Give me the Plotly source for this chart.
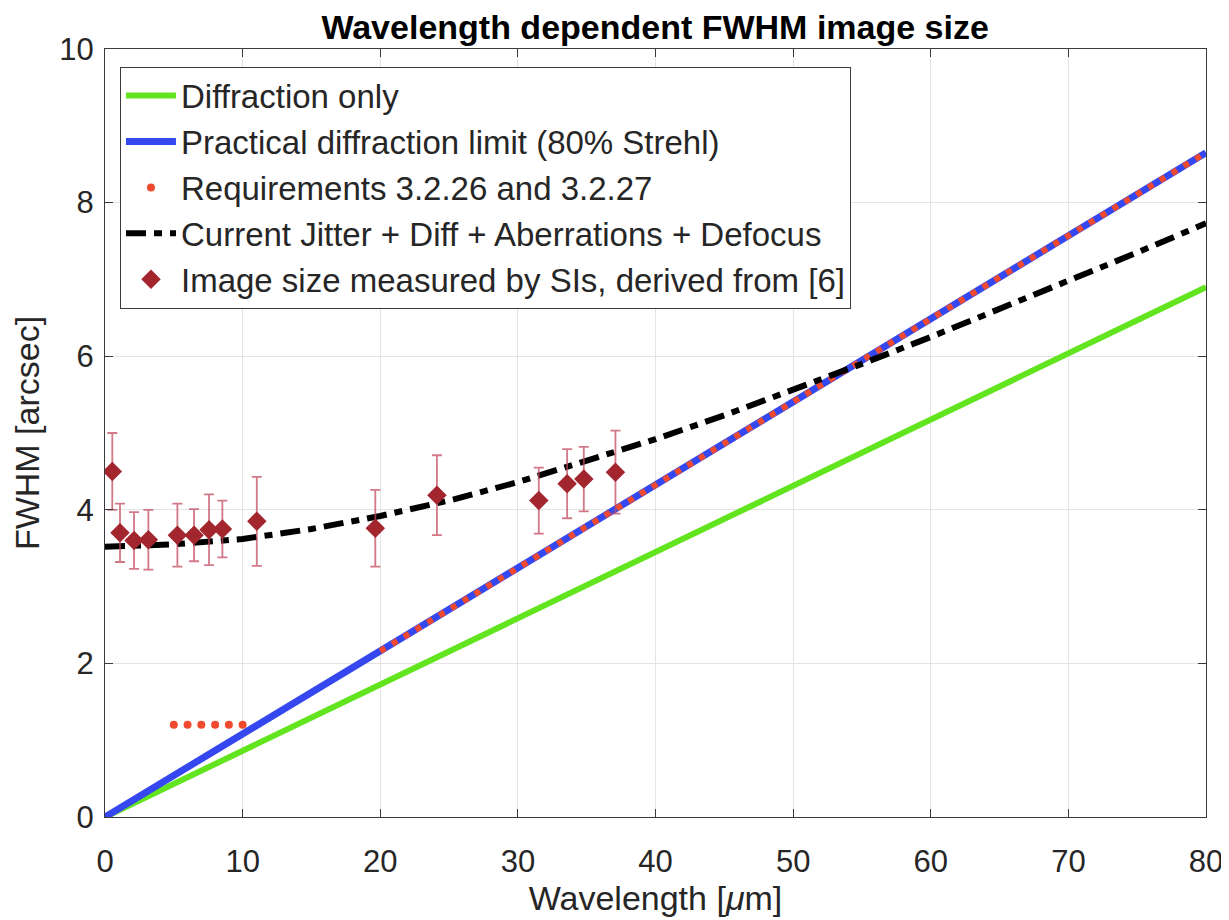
import plotly.graph_objects as go

# Straight-line models (endpoints)
diff_x = [0, 80]
diff_y = [0, 6.90]
prac_x = [0, 80]
prac_y = [0, 8.65]

# Requirements
req_diag_x = [20, 80]
req_diag_y = [2.16, 8.65]
req_pts_x = [5, 6, 7, 8, 9, 10]
req_pts_y = [1.2, 1.2, 1.2, 1.2, 1.2, 1.2]

# Current Jitter + Diff + Aberrations + Defocus
cur_x = [0, 5, 10, 15, 20, 25, 30, 35, 40, 45, 50, 55, 60, 65, 70, 75, 80]
cur_y = [3.52, 3.55, 3.62, 3.75, 3.92, 4.12, 4.36, 4.63, 4.92, 5.23, 5.56, 5.90, 6.25, 6.61, 6.97, 7.35, 7.73]

# Measured image sizes
meas_x = [0.53, 1.09, 2.11, 3.15, 5.26, 6.47, 7.56, 8.53, 11.03, 19.64, 24.12, 31.52, 33.58, 34.79, 37.09]
meas_y = [4.50, 3.70, 3.60, 3.61, 3.67, 3.67, 3.74, 3.75, 3.85, 3.76, 4.19, 4.12, 4.34, 4.40, 4.49]
meas_err = [0.50, 0.38, 0.37, 0.39, 0.41, 0.34, 0.46, 0.37, 0.58, 0.50, 0.52, 0.43, 0.45, 0.42, 0.54]

FONT = "Liberation Sans"
TXT = "#262626"

fig = go.Figure()
fig.add_trace(go.Scatter(x=diff_x, y=diff_y, mode="lines", name="Diffraction only",
                         line=dict(color="#62e51e", width=6), legendgroup="a"))
fig.add_trace(go.Scatter(x=prac_x, y=prac_y, mode="lines", name="Practical diffraction limit (80% Strehl)",
                         line=dict(color="#3548ef", width=7), legendgroup="b"))
fig.add_trace(go.Scatter(x=req_diag_x, y=req_diag_y, mode="lines", showlegend=False,
                         line=dict(color="#ef4a2f", width=6, dash="6px,7.8px"), legendgroup="c"))
fig.add_trace(go.Scatter(x=req_pts_x, y=req_pts_y, mode="markers", name="Requirements 3.2.26 and 3.2.27",
                         marker=dict(color="#ef4a2f", size=8), legendgroup="c"))
fig.add_trace(go.Scatter(x=cur_x, y=cur_y, mode="lines", name="Current Jitter + Diff + Aberrations + Defocus",
                         line=dict(color="black", width=6, dash="20px,8px,8px,8px"), legendgroup="d"))
fig.add_trace(go.Scatter(x=meas_x, y=meas_y, mode="markers", name="Image size measured by SIs, derived from [6]",
                         marker=dict(color="#a3262f", size=15, symbol="diamond"),
                         error_y=dict(type="data", array=meas_err, color="rgba(195,75,95,0.75)",
                                      thickness=1.8, width=5),
                         legendgroup="e"))

axis_common = dict(showline=True, linecolor="#3a3a3a", linewidth=1.3, mirror="ticks",
                   ticks="inside", ticklen=8, tickcolor="#3a3a3a",
                   showgrid=True, gridcolor="#e4e4e4", gridwidth=1, zeroline=False,
                   automargin=False,
                   tickfont=dict(family=FONT, size=31, color=TXT),
                   title_font=dict(family=FONT, size=34, color=TXT))

fig.update_xaxes(range=[0, 80], tickvals=[0, 10, 20, 30, 40, 50, 60, 70, 80],
                 ticklabelstandoff=17,
                 title_text="Wavelength [<i>μ</i>m]", title_standoff=6, **axis_common)
fig.update_yaxes(range=[0, 10], tickvals=[0, 2, 4, 6, 8, 10],
                 ticklabelstandoff=4,
                 title_text="FWHM [arcsec]", title_standoff=13, **axis_common)

# page body has an 8px default margin, so the figure is sized/placed accordingly
fig.update_layout(
    width=1221, height=912,
    margin=dict(l=97, r=23, t=41, b=103),
    paper_bgcolor="white", plot_bgcolor="white",
    title=dict(text="<b>Wavelength dependent FWHM image size</b>", x=0.53, xanchor="center",
               y=1 - 19 / 912, yanchor="middle", yref="container",
               font=dict(family=FONT, size=34, color="black")),
    legend=dict(x=0.0136, y=0.977, xanchor="left", yanchor="top",
                bgcolor="white", bordercolor="#3a3a3a", borderwidth=1,
                font=dict(family=FONT, size=33, color=TXT),
                itemwidth=50,
                tracegroupgap=0, traceorder="grouped"),
    font=dict(family=FONT, color=TXT),
)

fig.write_html("out.html")
